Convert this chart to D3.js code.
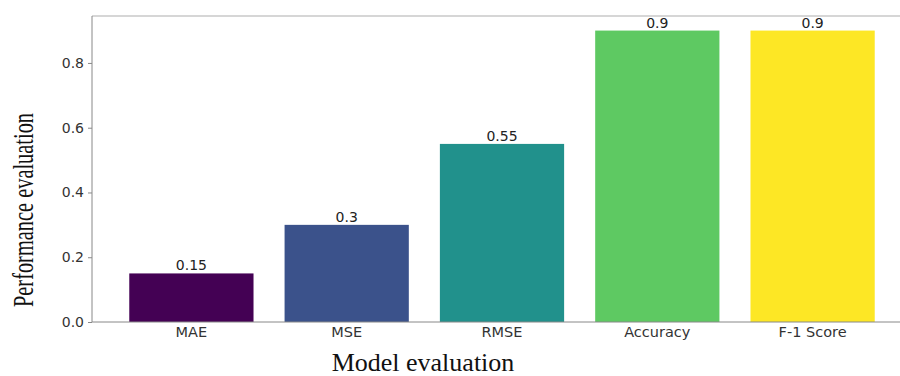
<!DOCTYPE html>
<html lang="en">
<head>
    <meta charset="UTF-8">
    <title>Model evaluation</title>
    <script src="https://d3js.org/d3.v7.min.js"></script>
    <style>
        body { margin: 0; background: #fff; }
    </style>
</head>
<body>
    <div id="my_dataviz"></div>

    <script>
        // data
        var metrics = ["MAE", "MSE", "RMSE", "Accuracy", "F-1 Score"];
        var scores = [0.15, 0.3, 0.55, 0.9, 0.9];
        var barColors = ["#440154", "#3b528b", "#21918c", "#5ec962", "#fde725"];
        var yTicks = [0.0, 0.2, 0.4, 0.6, 0.8];

        var W = 900, H = 376;
        var margin = {left: 92, top: 16, bottom: 322};

        var svg = d3.select("#my_dataviz")
            .append("svg")
            .attr("width", W)
            .attr("height", H)
            .style("font-family", "'DejaVu Sans', sans-serif");

        var x = d3.scaleBand()
            .domain(metrics)
            .range([margin.left, 912])
            .paddingInner(0.2)
            .paddingOuter(0.24);

        var y = d3.scaleLinear()
            .domain([0, 0.945])
            .range([margin.bottom, margin.top]);

        // bars
        svg.append("g")
            .selectAll("rect")
            .data(metrics)
            .enter()
            .append("rect")
                .attr("x", function(d) { return x(d); })
                .attr("y", function(d, i) { return y(scores[i]); })
                .attr("width", x.bandwidth())
                .attr("height", function(d, i) { return margin.bottom - y(scores[i]); })
                .attr("fill", function(d, i) { return barColors[i]; });

        // value labels on top
        svg.append("g")
            .selectAll("text")
            .data(metrics)
            .enter()
            .append("text")
                .attr("x", function(d) { return x(d) + x.bandwidth() / 2; })
                .attr("y", function(d, i) { return y(scores[i]) - 3; })
                .attr("text-anchor", "middle")
                .attr("font-size", 14)
                .attr("fill", "#222")
                .text(function(d, i) { return scores[i]; });

        // top frame line
        svg.append("line")
            .attr("x1", margin.left).attr("x2", W)
            .attr("y1", margin.top).attr("y2", margin.top)
            .attr("stroke", "#c8c8c8")
            .attr("stroke-width", 1.5);

        // y axis
        var yAxis = svg.append("g")
            .attr("transform", "translate(" + margin.left + ",0)")
            .call(d3.axisLeft(y).tickValues(yTicks).tickFormat(d3.format(".1f")).tickSize(4).tickPadding(4));
        yAxis.select(".domain").attr("stroke", "#888").attr("d", "M0," + margin.top + "V" + margin.bottom);
        yAxis.selectAll(".tick line").attr("stroke", "#888");
        yAxis.selectAll(".tick text")
            .attr("font-family", "'DejaVu Sans', sans-serif")
            .attr("font-size", 14)
            .attr("fill", "#333");

        // x axis
        var xAxis = svg.append("g")
            .attr("transform", "translate(0," + margin.bottom + ")")
            .call(d3.axisBottom(x).tickSize(0).tickPadding(5));
        xAxis.select(".domain").attr("stroke", "#888").attr("d", "M" + margin.left + ",0H" + W);
        xAxis.selectAll(".tick text")
            .attr("font-family", "'DejaVu Sans', sans-serif")
            .attr("font-size", 14.5)
            .attr("fill", "#333");

        // axis titles
        svg.append("text")
            .attr("transform", "translate(33,210) rotate(-90)")
            .attr("text-anchor", "middle")
            .attr("font-family", "'Liberation Serif', serif")
            .attr("font-size", 30)
            .attr("textLength", 194)
            .attr("lengthAdjust", "spacingAndGlyphs")
            .attr("fill", "#111")
            .text("Performance evaluation");

        svg.append("text")
            .attr("x", 423)
            .attr("y", 371)
            .attr("text-anchor", "middle")
            .attr("font-family", "'Liberation Serif', serif")
            .attr("font-size", 26)
            .attr("fill", "#111")
            .text("Model evaluation");
    </script>
</body>
</html>
